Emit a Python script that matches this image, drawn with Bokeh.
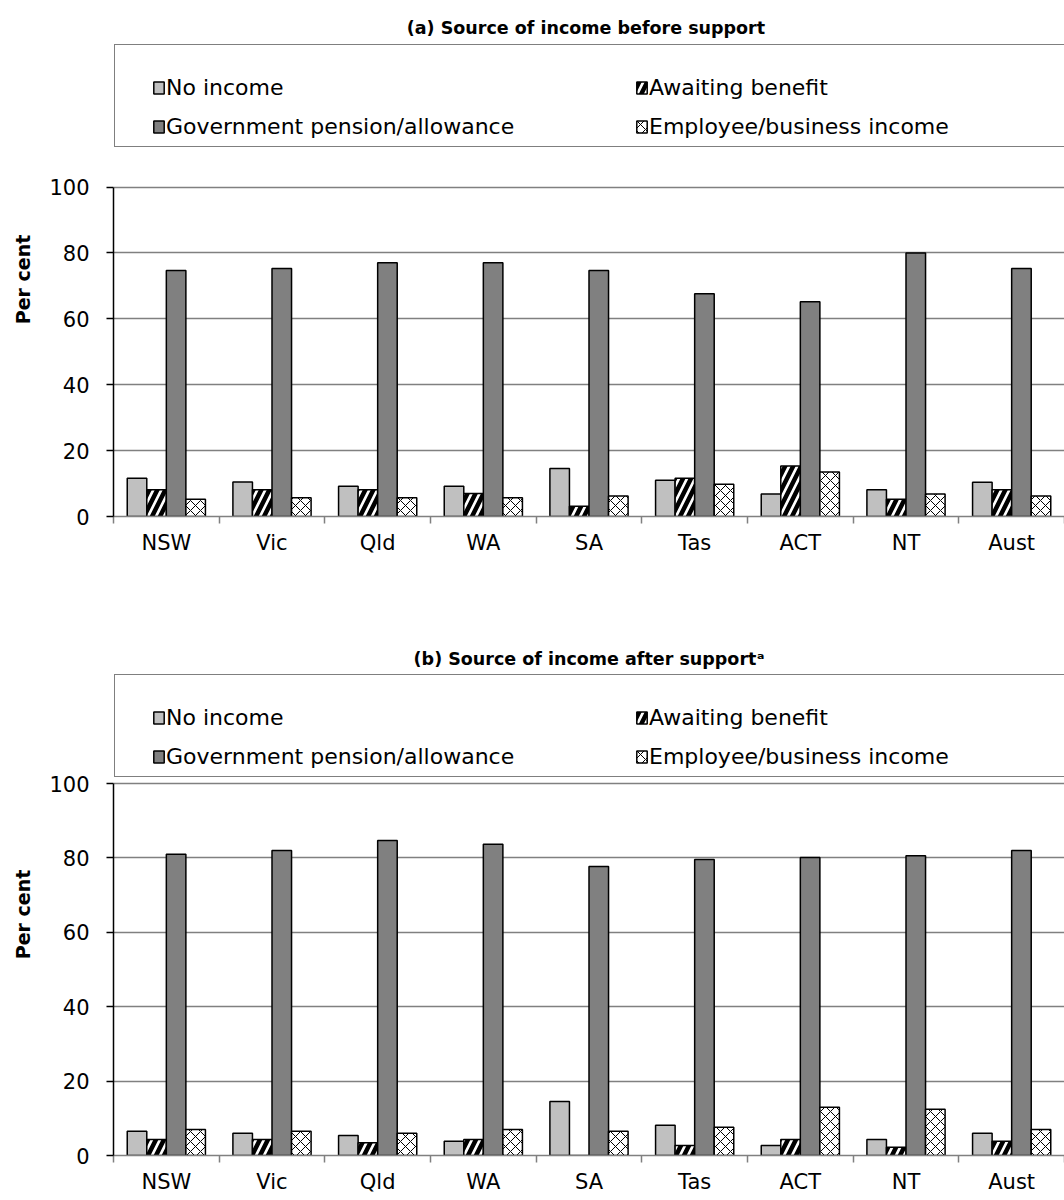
import numpy as np
from bokeh.plotting import figure
from bokeh.models import ColumnDataSource, Range1d, FixedTicker, Legend, LegendItem, Spacer
from bokeh.layouts import column
from bokeh.transform import dodge
from bokeh.embed import file_html
from bokeh.resources import INLINE

# ---------------- data ----------------
states = ["NSW", "Vic", "Qld", "WA", "SA", "Tas", "ACT", "NT", "Aust"]
series = ["No income", "Awaiting benefit", "Government pension/allowance", "Employee/business income"]
y_ticks = [0, 20, 40, 60, 80, 100]

before_no_income = [11.6, 10.5, 9.2, 9.2, 14.6, 11.0, 6.8, 8.1, 10.4]
before_awaiting = [8.1, 8.1, 8.1, 7.0, 3.1, 11.6, 15.3, 5.2, 8.1]
before_government = [74.7, 75.3, 77.0, 77.0, 74.7, 67.6, 65.2, 80.0, 75.3]
before_employee = [5.2, 5.7, 5.7, 5.7, 6.2, 9.8, 13.5, 6.8, 6.2]

after_no_income = [6.5, 6.0, 5.4, 3.8, 14.5, 8.1, 2.7, 4.3, 6.0]
after_awaiting = [4.3, 4.3, 3.4, 4.3, 0.0, 2.7, 4.3, 2.2, 3.8]
after_government = [81.0, 82.0, 84.7, 83.7, 77.7, 79.6, 80.1, 80.6, 82.0]
after_employee = [7.0, 6.5, 6.0, 7.0, 6.5, 7.6, 13.0, 12.4, 7.0]

FONT = "DejaVu Sans"


def make_panel(title_text, no_inc, awaiting, gov, emp, frame_h, px_per_unit,
               box_bottom, box_h, leg_bottom, min_bottom):
    centers = np.arange(len(states)) + 0.5
    src = ColumnDataSource(dict(x=centers, no=no_inc, aw=awaiting, gov=gov, emp=emp))
    y_end = frame_h / px_per_unit
    p = figure(frame_width=951, frame_height=frame_h,
               x_range=Range1d(0, len(states)), y_range=Range1d(0, y_end),
               output_backend="svg", toolbar_location=None,
               min_border_left=113, min_border_right=0, min_border_top=0,
               min_border_bottom=min_bottom)
    p.title.text = title_text
    p.title.align = "center"
    p.title.text_font = FONT
    p.title.text_font_size = "17.5px"
    p.title.text_font_style = "bold"
    p.title.text_color = "black"
    p.outline_line_color = None
    p.background_fill_color = "white"

    bw = 0.185
    common = dict(width=bw, source=src, line_color="black", line_width=1.5)
    r_no = p.vbar(x=dodge("x", -1.5 * bw), top="no", fill_color="#C0C0C0", **common)
    r_aw = p.vbar(x=dodge("x", -0.5 * bw), top="aw", fill_color="white",
                  hatch_pattern="/", hatch_color="black", hatch_weight=4.5,
                  hatch_scale=16, **common)
    r_gov = p.vbar(x=dodge("x", 0.5 * bw), top="gov", fill_color="#808080", **common)
    r_emp = p.vbar(x=dodge("x", 1.5 * bw), top="emp", fill_color="white",
                   hatch_pattern="x", hatch_color="black", hatch_weight=1,
                   hatch_scale=10, **common)

    # y axis
    yax = p.yaxis[0]
    yax.ticker = FixedTicker(ticks=y_ticks)
    yax.bounds = (0, 100)
    yax.axis_line_color = "black"
    yax.axis_line_width = 1.5
    yax.major_tick_line_color = "black"
    yax.major_tick_line_width = 1.5
    yax.major_tick_out = 7
    yax.major_tick_in = 0
    yax.minor_tick_line_color = None
    yax.major_label_text_font = FONT
    yax.major_label_text_font_size = "21px"
    yax.major_label_text_color = "black"
    yax.major_label_standoff = 17
    yax.axis_label = "Per cent"
    yax.axis_label_text_font = FONT
    yax.axis_label_text_font_size = "19px"
    yax.axis_label_text_font_style = "bold"
    yax.axis_label_text_color = "black"
    yax.axis_label_standoff = 12

    # x axis
    xax = p.xaxis[0]
    xax.ticker = FixedTicker(ticks=list(centers), minor_ticks=list(range(len(states) + 1)))
    xax.major_label_overrides = {float(c): s for c, s in zip(centers, states)}
    xax.axis_line_color = "#808080"
    xax.axis_line_width = 1.5
    xax.major_tick_line_color = None
    xax.major_tick_out = 0
    xax.major_tick_in = 0
    xax.minor_tick_line_color = "#808080"
    xax.minor_tick_line_width = 1.5
    xax.minor_tick_out = 7
    xax.minor_tick_in = 0
    xax.major_label_text_font = FONT
    xax.major_label_text_font_size = "21px"
    xax.major_label_text_color = "black"
    xax.major_label_standoff = 7

    # grid
    p.xgrid.grid_line_color = None
    p.ygrid.ticker = FixedTicker(ticks=y_ticks)
    p.ygrid.bounds = (0, 100)
    p.ygrid.grid_line_color = "#808080"
    p.ygrid.grid_line_width = 1.5

    # legend box (border only)
    r_dummy = p.vbar(x=[], top=[], width=0.1, fill_color=None, line_color=None)
    box = Legend(items=[LegendItem(label=" ", renderers=[r_dummy])],
                 location=(1, box_bottom), padding=0, spacing=0, margin=0,
                 glyph_width=1, glyph_height=1, label_standoff=0,
                 label_width=1100, label_height=box_h,
                 label_text_alpha=0,
                 border_line_color="black", border_line_width=1.5,
                 background_fill_color="white", background_fill_alpha=1.0)
    p.add_layout(box, "center")

    leg = Legend(items=[LegendItem(label=series[0], renderers=[r_no]),
                        LegendItem(label=series[1], renderers=[r_aw]),
                        LegendItem(label=series[2], renderers=[r_gov]),
                        LegendItem(label=series[3], renderers=[r_emp])],
                 orientation="horizontal", ncols=2,
                 location=(39, leg_bottom), padding=0, spacing=6, margin=0,
                 glyph_width=13, glyph_height=15, label_standoff=1,
                 label_width=463, label_height=33,
                 label_text_font=FONT, label_text_font_size="22px",
                 label_text_color="black",
                 border_line_color=None, background_fill_alpha=0)
    p.add_layout(leg, "center")
    return p


pa = make_panel("(a)  Source of income before support",
                before_no_income, before_awaiting, before_government, before_employee,
                frame_h=474, px_per_unit=3.294, box_bottom=369, box_h=101,
                leg_bottom=373.5, min_bottom=125)
pb = make_panel("(b) Source of income after support\u1d43",
                after_no_income, after_awaiting, after_government, after_employee,
                frame_h=482, px_per_unit=3.72, box_bottom=378, box_h=101,
                leg_bottom=382.5, min_bottom=40)

layout = column(Spacer(height=10), pa, pb, spacing=0)
open("out.html", "w").write(file_html(layout, INLINE))
